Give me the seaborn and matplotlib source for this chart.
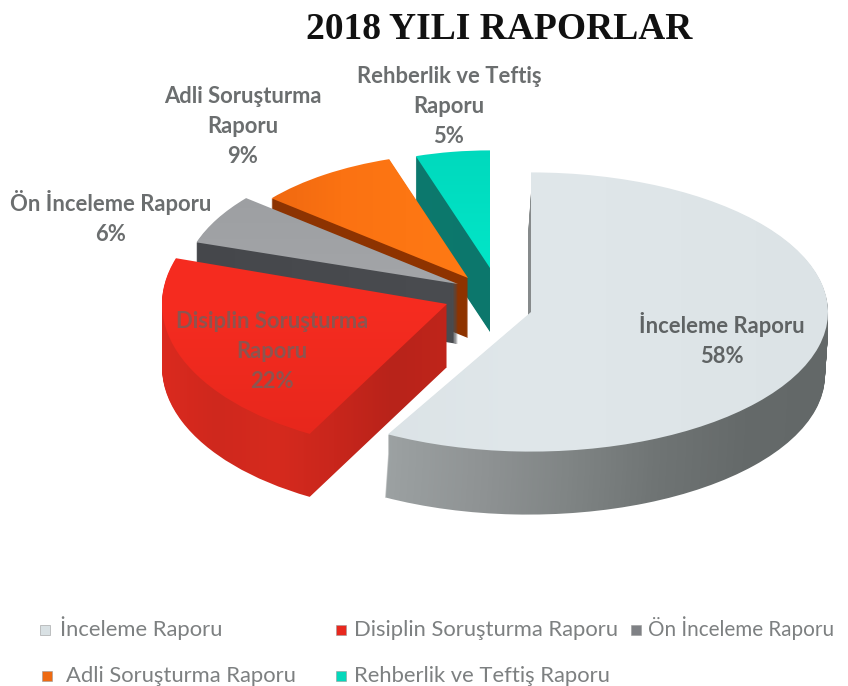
import matplotlib
matplotlib.use("Agg")
import matplotlib.pyplot as plt
import numpy as np
import seaborn as sns
from matplotlib.colors import LinearSegmentedColormap
from matplotlib.patches import Rectangle
from matplotlib.transforms import Affine2D

# values
categories = ["İnceleme Raporu", "Disiplin Soruşturma Raporu", "Ön İnceleme Raporu",
              "Adli Soruşturma Raporu", "Rehberlik ve Teftiş Raporu"]
shares = [58, 22, 6, 9, 5]
label_lines = [["İnceleme Raporu"], ["Disiplin Soruşturma", "Raporu"], ["Ön İnceleme Raporu"],
               ["Adli Soruşturma", "Raporu"], ["Rehberlik ve Teftiş", "Raporu"]]
title = "2018 YILI RAPORLAR"

W, H = 848, 686
SQUASH = 0.49

# slice geometry in pixels of the picture: apex x, apex y, radius, y squash, depth
geom = {0: (531, 312, 297, 0.47, 63), 1: (447, 304, 285, 0.52, 63), 2: (458, 284, 275, 0.49, 60),
        3: (468, 278, 255, 0.49, 60), 4: (490, 268, 240, 0.49, 64)}

top_stops = {0: ["#d7dfe3", "#e0e7ea", "#dce3e6"], 1: ["#f4291f", "#f62c20", "#e6271c"],
             2: ["#9a9c9f", "#a3a5a8", "#97999d"], 3: ["#e6600f", "#fb7212", "#ff7a14"],
             4: ["#00d9bd", "#02e6c8", "#02e3c5"]}
side_stops = {0: ["#b0b6b7", "#a8aeaf", "#9a9fa0", "#8e9293", "#7f8484", "#6f7474", "#656a6a", "#636868"],
              1: ["#dc2a1f", "#cf281d", "#d62a1e", "#c9261c", "#b8231a", "#c0251b"],
              2: ["#45474b", "#4a4c50"], 3: ["#8c3303", "#8f3400"], 4: ["#0b7d70", "#0d776c"]}

sns.set_theme(style="white")
palette = sns.color_palette(["#d9e1e4", "#e8281e", "#7f8185", "#ee6a12", "#05d8bb"])

fig = plt.figure(figsize=(W / 100, H / 100), dpi=100, facecolor="white")
ax = fig.add_axes([0, 0, 1, 1])


def to_y(py):
    return (H - py) / SQUASH


def draw_layer(i, py, stops, horizontal=True, shift=0):
    cx, _, r, sq, _ = geom[i]
    cx = cx + shift
    yc = to_y(py)
    wedges, _ = ax.pie(shares, startangle=90, counterclock=False, radius=r,
                       center=(cx, yc), wedgeprops={"linewidth": 0})
    for w in wedges:
        w.set_visible(False)
    # each slice gets its own flattening, the original has some perspective
    wedges[i].set_transform(Affine2D().translate(0, -yc).scale(1, sq / SQUASH).translate(0, yc) + ax.transData)
    cmap = LinearSegmentedColormap.from_list("g", stops)
    grad = np.linspace(0, 1, 128).reshape(1, -1) if horizontal else np.linspace(0, 1, 128).reshape(-1, 1)
    # a few px of margin, bilinear images fade out at their edge
    extent = (cx - r - 6, cx + r + 6, yc - r - 6, yc + r + 6)
    if i in (1, 2, 3, 4):
        extent = (cx - r - 6, cx + 6, yc - r - 6, yc + r + 6)
    im = ax.imshow(grad, cmap=cmap, extent=extent, aspect="auto", interpolation="bilinear")
    im.set_clip_path(wedges[i])


# back slices first, the big front slice last
for i in [4, 3, 2, 1, 0]:
    cy = geom[i][1]
    for d in range(geom[i][4], 0, -1):
        # lower layers of the big slice drift left, gives the thin line at its straight edge
        shift = -3 * max(0, d - 20) / 43 if i == 0 else 0
        draw_layer(i, cy + d, side_stops[i], shift=shift)
    draw_layer(i, cy, top_stops[i], horizontal=i in (0, 3))

ax.set_aspect("auto")
ax.set_xlim(0, W)
ax.set_ylim(0, H / SQUASH)
ax.set_axis_off()


def put(x, y, s, **kw):
    fig.text(x / W, 1 - y / H, s, ha="center", va="baseline", **kw)


put(499, 39, title, family="Liberation Serif", weight="bold", fontsize=27, color="#111111")

# data labels
label_pos = {0: (722, 333), 1: (272, 328), 2: (111, 211), 3: (243, 103), 4: (449, 83)}
label_cols = {0: "#5f6364", 1: "#8c5550", 2: "#6b6e6f", 3: "#6b6e6f", 4: "#6b6e6f"}
for i, lines in enumerate(label_lines):
    x, y = label_pos[i]
    for k, line in enumerate(lines + [f"{shares[i]}%"]):
        put(x, y + k * 30, line, family="Lato", weight="bold", fontsize=15.8, color=label_cols[i])

# legend, the rows are not aligned in the original
legend_text_x = [60, 354, 648, 66, 354]
legend_y = [636, 636, 636, 682, 682]
legend_box_x = [45, 341, 636, 47, 341]
legend_size = [15.8, 15.8, 14.9, 15.8, 15.8]
for i, name in enumerate(categories):
    fig.text(legend_text_x[i] / W, 1 - legend_y[i] / H, name, ha="left", va="baseline",
             family="Lato", fontsize=legend_size[i], color="#7d8081")
    fig.add_artist(Rectangle(((legend_box_x[i] - 5) / W, 1 - (legend_y[i] - 1) / H), 10 / W, 10 / H,
                             transform=fig.transFigure, facecolor=palette[i], edgecolor="#9a9a9a", linewidth=0.4))

fig.savefig("out.png", dpi=100)
